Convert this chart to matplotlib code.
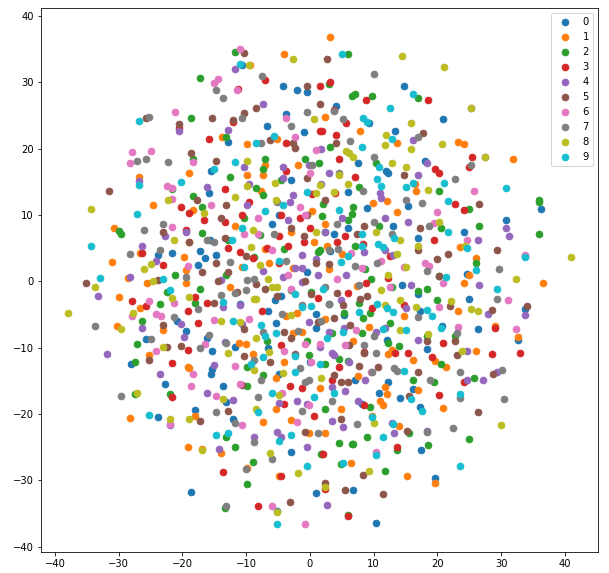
import matplotlib
matplotlib.use('Agg')
import matplotlib.pyplot as plt

labels = ['0', '1', '2', '3', '4', '5', '6', '7', '8', '9']

# values, one list per digit
points_0 = [(-10.6,32.6),(-4.3,29.4),(-2.1,28.8),(-0.5,28.6),(-3.7,25.2),(-6.8,23.4),(-1,22.5),(-12.9,21),(-15.5,16.6),(-3,15.2),(-15.9,13.3),(-4.9,10),(-6,8.7),(-15.7,6.2),(-17.3,4.5),(-16.5,3.5),(-14.7,3.9),(-21.7,4.2),(-23.8,4),(-17.5,2.4),(-0.5,1.4),
    (4.1,26.5),(14.7,29.4),(20.9,24.4),(9.3,23.8),(13.4,22.6),(7.6,17.9),(18.1,18.1),(12,16.7),(12.3,16.4),(6,13.4),(9,11.1),(15.4,11.3),(36.3,10.9),(30.8,9.2),(13.1,8.3),(6,8),(3.8,7.1),(24.1,7.4),(16.9,6.6),(3.2,4.5),(24.7,1.1),(14.5,-0.5),
    (-18.7,-31.8),(1,-31.9),(-23.9,-20.5),(-18.1,-19.4),(-12.1,-20.8),(-2.9,-25.8),(-13.6,-15.8),(-13.2,-18.2),(-15.6,-14),(-15.4,-13.2),(-28,-12.5),(-22.7,-15.5),(-15.4,-10.5),(-11.7,-9.9),(-16.1,-8.6),(-19.5,-7.5),(-25.8,-8.7),(-20.8,-6),(-6.6,-10),(-5.4,-6.3),(-6.6,-4.5),(-5.5,-2.8),(-4.5,-2.2),(0.9,-4.9),(0.9,-7.1),(0,-12.2),(-4.8,-14),(-5.1,-34.6),(-10.9,-3.4),
    (16.9,-1.9),(25,-2.7),(33.8,-4.2),(32.7,-8.9),(5.4,-5.1),(17.2,-4.5),(20.8,-6.8),(26.4,-7.2),(12.1,-8.9),(18.4,-10.2),(7.1,-14.9),(12.3,-15.1),(10.9,-16.9),(14.2,-17.6),(16.2,-16.3),(8.1,-18.5),(17.2,-19),(17.5,-25.5),(19.7,-29.7),(6.8,-31.5),(10.3,-36.5),(3,-3.4)]
points_1 = [(-4.1,34.2),(-9.4,32.6),(-13.8,21.7),(-9.8,20.7),(-5.1,21.4),(-7.1,17.6),(-9.9,16.1),(-7.3,16),(-1.9,17.5),(-19,16.4),(-26.8,15.7),(-7.7,13.6),(-24.6,11.5),(-18.3,10.7),(0.4,10.6),(-11.7,8.3),(-30.7,8),(-3,7.5),(0.7,6),(-19,5.9),(-7,4.8),(-19.8,3.6),(-26.6,4.2),(-31,2.9),(-19.5,1.7),(-10.6,2.1),(-6.5,2.7),(-28.6,0.5),(-25.5,-0.3),(-19.5,-0.3),(-2.6,2),
    (3.2,36.9),(2.4,24.7),(7.9,22.6),(13.6,20.8),(23.3,21),(24.1,20.7),(31.8,18.5),(16.5,14.6),(16.7,13.6),(9.9,11.8),(12.1,12.1),(13.7,10.4),(2.3,8.7),(23.5,5.1),(2.6,5.3),(5.1,4.1),(26.1,3.5),(3,1.8),(25,0.9),(24.1,-0.3),(36.6,-0.3),(7.4,-0.7),
    (-29.9,-2.4),(-26.6,-4),(-30.2,-6.8),(-23,-7.4),(-25.2,-11.1),(-19.1,-12.9),(-28.2,-20.6),(-18.1,-20.3),(-19.2,-25),(-16.9,-25.3),(-14,-25.9),(-9.8,-28.2),(-4.9,-29.4),(-12.6,-0.9),(-3.7,-5.3),(-2.1,-4.8),(-2.7,-7.8),(-1.3,-7.6),(-11.2,-9.3),(-10.1,-9.5),(-9,-11),(-4,-12.2),(-5.4,-14.5),(1.5,-16.1),(-5.4,-19.3),(-2.9,-20.9),(-7.3,-21.2),(-0.2,-22.9),(-18.9,-13.1),
    (14.8,-5.3),(23.3,-4.5),(9.3,-6.9),(2.3,-5.7),(6.8,-9),(29.1,-6.8),(32.7,-8.4),(12.3,-11),(12.9,-10.4),(16.1,-11.9),(19.7,-12),(21.3,-12.9),(26.1,-10.5),(7.6,-14.2),(11.8,-16),(12.1,-17),(17,-16.4),(11,-18.1),(11.5,-18.7),(4.9,-19.3),(20.9,-19.1),(9.8,-20.3),(13.9,-21.8),(2.4,-22.9),(6.5,-27.4),(15.3,-29.4),(19.7,-30.4)]
points_2 = [(-11.8,34.5),(-17.2,30.6),(-18.6,24.6),(-13.2,21.7),(-7,18.5),(-0.7,18.5),(-18.4,18.4),(-7.3,17),(-12.6,15.7),(-4.6,15.2),(-21.6,13.9),(-8.4,14),(-7.3,13),(-18.3,12.8),(1.4,17.8),(-16.9,11.2),(-10.4,9.5),(-29.9,7.6),(-29.6,7.2),(-16.9,7.3),(-12.8,6.2),(-7.8,7),(-4,4.8),(1.4,4.5),(-8.8,3.6),(-21.1,1),(-13.2,0.9),(-17.3,-1.2),
    (6,34.2),(3,29.8),(6.6,28),(7,28.2),(9.8,28),(17,27.7),(3.2,20.2),(10.3,17.9),(7.7,14.2),(20.2,13.6),(2.1,11.6),(6.8,11.2),(24.9,10.9),(36,12.2),(36,12),(36,7.1),(1.9,9.8),(6,9.3),(6.6,10.1),(10.9,8.4),(20.5,8),(26.6,8.4),(2.4,7.4),(7,5.3),(1.2,4.4),(1.6,4.7),(8.7,1.8),(9.6,0.3),(26.1,2.7),(20.3,0.8),(12.9,-0.8),(18.3,-1.2),
    (-22.5,-1.6),(-23.5,-3.4),(-18,-3.3),(-26.3,-6),(-27.2,-9.5),(-27.4,-12.2),(-27.4,-17),(-21.9,-17),(-9.9,-15.8),(-9.9,-12.9),(-7.4,-14.1),(-6.8,-9),(-0.4,-9),(-0.2,-11.1),(-13.1,-23.4),(-11.7,-24.9),(-9,-27.3),(-9.9,-30.6),(-13.4,-34.2),(1.8,-26.1),(-2.9,-1.3),(0.1,-1.6),
    (16.9,-1.5),(20,-2.8),(7.7,-3.3),(9.5,-4.8),(5.4,-4.8),(8.4,-5.6),(12.6,-6.3),(3.5,-7.8),(8.2,-7.8),(18.4,-8.3),(22.7,-8.3),(12.3,-9.3),(14,-9.8),(4.6,-11.7),(6,-12),(2.3,-12.5),(20.6,-12.5),(25.8,-14.6),(16.1,-14.9),(19.4,-15.2),(2.4,-19.3),(9.5,-19),(9,-23.5),(15.6,-22.9),(4.6,-24.4),(6.6,-24.5),(6.8,-24.5),(18.6,-24.7),(24.9,-23.8),(13.7,-25.5),(1.9,-26.1),(4.9,-27.6),(11.8,-28.6),(5.9,-35.2)]
points_3 = [(-7,30.3),(-11.3,29),(1.5,29.4),(-12.1,24),(-20.5,23.1),(-15.9,21.4),(-3.7,20.8),(-3.8,16.7),(-13.4,13.9),(-9.6,11.9),(-20.3,11.2),(-18.9,10.3),(-16.7,9.2),(-13.4,9),(-10.7,10),(-4.5,10),(-1.6,9.5),(0,8),(-19.4,7.7),(-4.8,6.8),(-1,5.9),(-12.9,5),(-6.8,5),(-3.4,5.3),(-10.9,4.4),(-9,3.5),(-26.4,4.2),(-23,2.4),(-4.9,2.7),(0.3,13.1),(1.6,22.6),
    (3.2,30),(8.8,27.4),(18.6,27.4),(3.8,25.8),(5.7,23.8),(1.9,22.6),(4.1,22),(25.5,18.8),(4.6,18.5),(24.9,17.2),(19.7,17),(20.3,16.3),(7.1,15.7),(4,13.3),(22.8,11.6),(24.2,10.7),(5.5,6.9),(19.5,6.3),(4.3,6),(8.4,5.6),(12.5,3.8),(12.3,0.5),(8.8,-0.3),
    (-27.9,-3),(-25.7,-3.7),(-18,-2.4),(-16.2,-3.3),(-19.1,-4.4),(-17.5,-6.3),(-19.1,-10.4),(-21.7,-12.3),(-21.6,-17.5),(-7.6,-4.5),(-4.6,-9.6),(-3.2,-15.8),(-1.2,-16.1),(-4.1,-18.5),(0.6,-20.3),(-13.6,-28.8),(-4.6,-29.4),(-8.1,-33.9),(1.2,-2.5),
    (5.9,-1.8),(9.8,-4),(14.8,-3.6),(3.4,-14.9),(4.6,-12.9),(8.5,-10.7),(13.4,-10.8),(15.4,-10.8),(20.9,-9.3),(19.1,-11.4),(28.6,-11),(33,-10.8),(29.1,-7.1),(24.2,-15.2),(20.3,-17.2),(8.5,-18.7),(13.7,-25),(2.1,-26.1),(2.3,-31.3),(5.9,-35.4)]
points_4 = [(-11.8,32),(-7.4,26.7),(-12.8,22.8),(-20.6,22.6),(-4.3,17.3),(-0.2,17.6),(-10.3,17.2),(-26.8,15.1),(-16.2,14.2),(-9.5,14.6),(-4.3,15.5),(-2.6,13),(-3.2,11.9),(-9.8,11.5),(-3.5,9.2),(-22.7,6.9),(-19.4,7.4),(-26.3,5.4),(-24.1,3),(-1.3,3.9),(0.9,3.3),(-28.3,0.6),(-13.9,0.2),(-7.3,1.5),(-2.4,2),(-1.2,2),(-4.3,0.6),(1.2,0.9),(-1.3,-0.1),
    (25.3,26.1),(16.1,21.3),(1.8,20),(27.4,18.8),(18.3,17.9),(3,16.3),(16.9,16.1),(1.8,14.6),(11,13.3),(11.2,12.5),(5.1,9.5),(11.7,9.6),(15.4,8.9),(30.7,8.1),(31.3,6.8),(2.4,7.5),(26.3,6.2),(8.5,4.4),(11.7,4.7),(13.1,3.9),(5.7,0.9),(15.8,-0.5),(26.6,-0.5),(33.8,3.8),
    (-33.3,-2.2),(-31.8,-11),(-26.4,-7),(-23.6,-14),(-20.2,-6.5),(-19.7,-8.4),(-15,-12.6),(-16.1,-16.9),(-12,-17.9),(-21.9,-21.7),(-13.6,-3.9),(-10.9,-3.5),(-10.6,-6.5),(-13.4,-9.2),(-14.3,-25.2),(-8.7,-23.5),(-5.1,-22.7),(-4.6,-23.5),(-4.9,-18.4),(-2.1,-18.1),(-0.4,-18.5),(-0.5,-24.9),(-0.2,-6.2),(1.5,-9.9),
    (4.9,-2.8),(15.1,-4),(28,-4.9),(33.7,-5.1),(3,-7.7),(5.4,-7.1),(10.3,-7.7),(11.8,-7.1),(16.9,-8.9),(3.4,-10.8),(3.8,-11.1),(6.2,-12.2),(24.6,-10.5),(29.3,-13.7),(27.2,-14.9),(24.6,-14.8),(8.7,-14.9),(3.4,-16),(5.5,-16.6),(7.6,-18.1),(3.4,-21.1),(5.2,-22),(12.8,-21.4),(13.2,-22.9),(18.4,-22.6),(2.6,-33.7)]
points_5 = [(-10.4,34.4),(-0.5,29.4),(1.5,26.7),(-8.4,26.1),(-10.3,25.3),(-15.4,24.6),(-12,24.3),(-25.8,24.6),(-20.5,23.7),(-6.2,21.3),(-2.6,20.8),(-2.3,20.1),(-18.7,19.3),(-14.8,18.1),(-0.5,15.5),(-31.5,13.6),(-17.8,12.2),(-13.1,11.5),(-14,9.5),(-2.9,8),(-23.1,7.4),(-1,6.8),(-13.4,6.6),(-18.9,5.9),(-10.1,3.8),(1,2.7),(-14.7,2.7),(-16.9,1.4),(-12.8,1.4),(-35.1,-0.3),(-23.8,0.2),(-0.8,0),(-0.4,10),
    (2.6,33.5),(17.8,22.3),(4.1,20.8),(14.7,16),(2.3,12.2),(26.6,11.6),(8.5,8.3),(17.2,8),(7.4,7.2),(16.9,4.7),(29.4,4.7),(21.6,4.1),(20,3.3),(3,2.6),(20.3,0.8),
    (-15.1,-3.3),(-23.1,-6.6),(-22.5,-9.9),(-25.2,-11.9),(-20.2,-9.8),(-10.4,-11.3),(-10.3,-7.2),(-10.7,-15.7),(-6.3,-12.2),(-12.8,-19.6),(-17.3,-21.1),(-3.2,-33.3),(-0.7,-22.7),(-4,-7.7),(-2.9,-8.6),(-2.4,-11),(-5.2,-2.2),(-7,-1.2),(1.2,-6.2),(0.1,-1.9),(-11.5,-1.6),(-8.5,-0.4),(-14.5,0),
    (4.3,-1.8),(9,-2.2),(7.9,-2.7),(5.2,-3.6),(3.8,-5.6),(6.3,-6.6),(22,-3.7),(28.5,-4.3),(34,-3.7),(18.3,-9),(22.7,-9),(6.2,-9.6),(8.5,-10.8),(23.1,-11.1),(7.7,-12.8),(10.7,-12.9),(3.7,-14.1),(4.9,-15.1),(5.9,-15.1),(16.9,-13.7),(28.8,-14),(15.6,-17.3),(26.3,-19.7),(4.9,-20.8),(15.3,-22.6),(8.4,-29.2),(2.3,-30.4),(5.5,-31.5),(11.5,-32.1)]
points_6 = [(-11,35),(-14.5,30.5),(-15.1,29.9),(-11.5,28.8),(-21.1,25.5),(-3.8,24.6),(-2.3,21.7),(1,19.8),(-27.9,19.5),(-24.9,19.6),(-28.2,17.8),(-18.4,18),(0,16.4),(-22.5,14.3),(-21.6,14),(-21.7,12.4),(-15.6,11.5),(-1.6,11.2),(-0.7,10),(-8.1,9.5),(-21.6,8.2),(-10.4,7.2),(-8.1,7.2),(-6,4.7),(-19.2,2.3),(-3.5,1),
    (25.8,13.6),(20,10.4),(19.4,8.8),(24.6,6.2),(6.5,4.2),(11.2,3),(18,2.7),(18.7,2.3),(8.1,2),(4.3,0.3),(14.8,2.1),(20.9,-0.3),(12.5,-0.8),(33.8,3.9),
    (-27.9,-5.3),(-25.2,-3),(-21.3,-3.3),(-24.1,-4.9),(-23.3,-5.3),(-24.1,-10.5),(-16.5,-9.5),(-18.3,-14),(-18.6,-15.8),(-15.1,-5.9),(-9.6,-5.7),(-11.8,-12.8),(-11,-15.5),(-14.8,-17.3),(-10.7,-21.7),(-21.9,-21.5),(-4,-10.5),(-0.7,-9.5),(1.5,-9.5),(0.1,-12.2),(-4.4,-16.9),(-0.2,-18.7),(-2.1,-21.2),(-5.9,-33.9),(-0.8,-36.6),(-3,-1.2),
    (20.2,-3.8),(31,-2.8),(7.3,-7.4),(23.3,-6.9),(32.4,-7.2),(5.5,-9.6),(9.6,-13.7),(10.4,-25.8)]
points_7 = [(-7.6,31),(-14.8,28.8),(-13.6,27.7),(-0.4,25.5),(-25.3,24.7),(-10.7,24.6),(-2.9,23.4),(-7.7,20.8),(-27.2,18.2),(-25.8,18.5),(-22.2,18),(0.4,17.5),(-5.1,11.9),(-23,8.6),(-26,7.7),(-5.7,7.1),(-16.1,6.3),(-15.1,5.9),(-28.3,4.1),(-23.6,4.7),(-12.6,2.9),(-3.7,3),(-19.4,0.6),(-9.8,0.2),(-8.8,0.3),
    (10.1,31.2),(3.8,25.6),(5.2,24.4),(16.9,21.7),(6.3,21.1),(10.1,18.7),(4.6,16.4),(25.2,17.5),(22.7,15.4),(8.4,13.6),(15.1,12.2),(17.6,11.8),(10.1,9),(4.3,8.7),(18.7,8.3),(12.9,7.1),(3,4.7),(4.4,4.8),(7.1,2.3),(10.6,2.7),(18.3,1.5),(29.6,1.8),(7.7,-0.5),(2.4,-0.8),
    (-33.8,-6.8),(-29.6,-17.3),(-25,-8.7),(-21.4,-5.4),(-17.5,-4.2),(-14,-2.1),(-11.7,-1.8),(-10.1,-1.3),(-15.9,-8.1),(-17.3,-10.1),(-13.2,-9.3),(-8.7,-11.9),(-7.7,-14.9),(-7.4,-7.7),(-4.4,-4.9),(-1.8,-7.5),(-1.3,-3.6),(-1.6,-13.1),(-0.7,-15.2),(-0.2,-14.8),(-8.2,-17.5),(-14.8,-19.7),(-11.7,-21.4),(-8.8,-24.2),(-6,-26.8),(-10.1,-28.3),(-13.2,-33.8),(-1.3,-19.6),(1.2,-22.9),
    (3,-3.4),(17,-5.4),(29.4,-2.7),(1.8,-6),(10.1,-8.3),(23,-7.8),(8.5,-9.6),(10.4,-10.8),(13.2,-13.1),(13.7,-13.5),(9.8,-13.7),(23.6,-13.7),(30.2,-13.4),(18.9,-14.8),(23.5,-17.6),(30.5,-17.8),(3.5,-18.1),(7.4,-21.5),(22.4,-22.1),(18.4,-22.7)]
points_8 = [(-2.7,33.5),(-9.5,32.6),(0.6,24.4),(-9.8,18.2),(-5.5,14.8),(-9.9,14.3),(1.5,14.5),(1,13.3),(-11.8,12.7),(-22.2,12.2),(-5.3,12.2),(-34.4,10.9),(-16.7,10.3),(-9,7.8),(0.9,7.5),(-21.4,6.2),(-9.2,5.1),(-7.8,2.4),(-26.1,1.8),(-25,2.6),(-24.7,0),(-6.6,0.3),(-33.7,-0.9),(-5.9,-0.9),(-5.1,-0.8),
    (14.5,33.9),(21.1,32.3),(25.2,26.1),(15.8,23.8),(12,22),(11.8,20.5),(20.8,20.7),(15.9,19.9),(5.7,19.7),(6.2,19.4),(6.8,18.7),(12.8,17.8),(15,17.2),(27.4,18.7),(4.5,16),(6,14.6),(3.7,13.4),(18.6,13.7),(20.3,9),(10.3,7.5),(14.2,6.2),(16.9,5.4),(24.4,5.4),(13.7,4.1),(40.9,3.6),(15,2.1),(12.3,0.9),(32.4,0.3),
    (-37.9,-4.7),(-29.6,-7.2),(-27.7,-4.8),(-21.7,-2.5),(-18.9,-2.4),(-23,-9.9),(-27.2,-16.9),(-22,-20.8),(-18.9,-20.8),(-17,-25.5),(-14,-6),(-11,-6.2),(-8.8,-2.7),(-8.4,-2.7),(-8.4,-8.6),(-12.8,-10.8),(-8.8,-13.4),(-6.5,-10.7),(-4.3,-13.8),(-4.9,-17.2),(-13.7,-17.8),(-8.4,-19.3),(-6.3,-25.9),(-1.8,-28.9),(-5.1,-34.8),(-2.9,-5.1),(1.8,-14.5),
    (11.2,-1.3),(14.2,-2.8),(22.2,-3),(16.7,-3.9),(11.7,-3.6),(25.2,-4.2),(26.4,-4.5),(14.2,-7.4),(18.6,-8),(23.9,-10.5),(10.1,-21.4),(30,-21.7),(9.3,-28.6),(2.4,-31)]
points_9 = [(-10.9,32.7),(-26.8,24.1),(-5.7,21.9),(-8.5,20.8),(-11.7,18),(-15.1,17),(-20.3,14.9),(-26.9,14.5),(-0.4,13.4),(-4.3,11.5),(-27.1,10.1),(-7.1,10.6),(-10.7,8),(-12.3,6.2),(-34.4,5.4),(-4.8,3),(-10.3,2.1),(-32.9,0.5),(-23,0.3),
    (5.1,34.2),(16.2,28.2),(12.6,26.2),(8.4,24.6),(9,24),(12.8,21.4),(8.2,20.2),(10.9,17.3),(10.6,15.4),(11.2,14.3),(15,14.2),(16.2,14.8),(21.1,14.8),(30.8,14),(21.7,12.1),(4.5,10.7),(21.6,7.5),(8.1,7.2),(13.2,6.6),(10.7,5.7),(11.4,5.1),(8.1,5.3),(24.7,5),(6,3.8),(4.9,2.9),(33.8,3.6),(26,1.7),(21.3,0.6),(29.3,-1.2),(2.1,-1.2),
    (-22,-1.3),(-13.6,-3.1),(-12.1,-6),(-7.7,-6.6),(-7.1,-8.3),(-5.4,-7.8),(-7.3,-11.4),(-9.2,-12.5),(-2.3,-11.3),(-2.3,-13.7),(-2.3,-1.9),(-1.3,-3.9),(0.1,-3.7),(1.6,-12.5),(-5.9,-16.9),(0.6,-17.5),(-8.2,-19.7),(-25.2,-20.2),(-14.8,-23.2),(-12.8,-22.9),(-2.9,-23.2),(-4.9,-24),(-0.5,-27.9),(-5.1,-36.6),
    (10.6,-3.4),(12.1,-4),(13.1,-4.6),(7.7,-4.6),(18.4,-4.3),(19.1,-5.3),(5.2,-7.7),(2.6,-8.6),(11.4,-7.2),(15,-7.4),(20.6,-7.1),(14.7,-13.5),(3.7,-16.9),(15.9,-17.8),(23.6,-17),(17.6,-19.6),(9.8,-20.5),(13.1,-21.5),(11.4,-23.5),(10.3,-26.2),(5.2,-27.4),(23.5,-27.9)]

all_points = [points_0, points_1, points_2, points_3, points_4,
              points_5, points_6, points_7, points_8, points_9]

fig = plt.figure(figsize=(609 / 72, 573 / 72), dpi=72)
ax = fig.add_axes([41 / 609, 21 / 573, 557 / 609, 544 / 573])

for label, pts in zip(labels, all_points):
    xs = [p[0] for p in pts]
    ys = [p[1] for p in pts]
    ax.scatter(xs, ys, s=44, label=label)

ax.set_xlim(-42.2, 45.2)
ax.set_ylim(-40.8, 41.2)
ax.set_xticks(range(-40, 41, 10))
ax.set_yticks(range(-40, 41, 10))
ax.legend(loc='upper right')

fig.savefig('out.png', dpi=72)
